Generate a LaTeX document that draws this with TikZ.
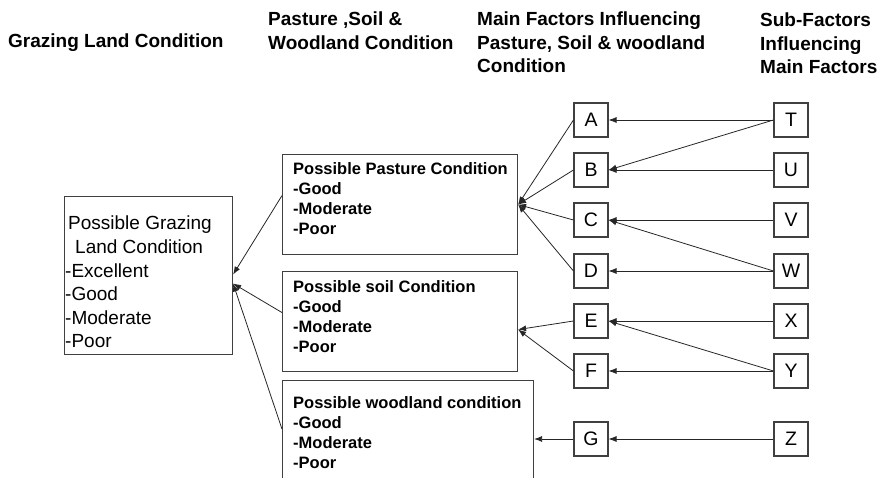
\documentclass[tikz,border=0pt]{standalone}
\usepackage{fontspec}
\setmainfont{Liberation Sans}
\usepackage{tikz}
\usetikzlibrary{arrows.meta}

\begin{document}
\begin{tikzpicture}[x=1pt,y=-1pt]
% Les styles des objets
\tikzstyle{fleche}=[->,>={Latex[length=8pt,width=6pt]},line width=0.8pt,draw=black!85]
\tikzstyle{cadre}=[draw=black!75,line width=1.1pt,rectangle,inner sep=0pt]
\tikzstyle{lettre}=[cadre,minimum size=34pt,font=\fontsize{19.5}{23}\selectfont]
\tikzstyle{titre}=[anchor=north west,inner sep=0pt,align=left,
                   font=\fontsize{19}{23.5}\selectfont\bfseries]
\tikzstyle{liste}=[anchor=north west,inner sep=0pt,align=left,
                   font=\fontsize{16.5}{20}\selectfont\bfseries]

\useasboundingbox (0,0) rectangle (883,478);
\clip (0,0) rectangle (883,478);

% Les titres des colonnes
\node[titre] (t1) at (8,34) {Grazing Land Condition};
\node[titre] (t2) at (268,12) {Pasture ,Soil \&\\Woodland Condition};
\node[titre] (t3) at (477,12) {Main Factors Influencing\\Pasture, Soil \& woodland\\Condition};
\node[titre] (t4) at (760,13) {Sub-Factors\\Influencing\\Main Factors};

% Les grands cadres
\node[cadre,anchor=north west,minimum width=168pt,minimum height=158pt] (grazing) at (64,196) {};
\node[cadre,anchor=north west,minimum width=235pt,minimum height=100pt] (pasture) at (282,154) {};
\node[cadre,anchor=north west,minimum width=235pt,minimum height=100pt] (soil) at (282,271) {};
\node[cadre,anchor=north west,minimum width=251pt,minimum height=125pt] (woodland) at (282,380) {};

% Le texte des cadres
\node[anchor=north west,inner sep=0pt,align=left,font=\fontsize{19}{23.6}\selectfont]
  (grazingtxt) at (65,216) {\hspace*{3pt}Possible Grazing\\\hspace*{10pt}Land Condition\\-Excellent\\-Good\\-Moderate\\-Poor};
\node[liste] (pasturetxt) at (293,162) {Possible Pasture Condition\\-Good\\-Moderate\\-Poor};
\node[liste] (soiltxt) at (293,280) {Possible soil Condition\\-Good\\-Moderate\\-Poor};
\node[liste] (woodlandtxt) at (293,396) {Possible woodland condition\\-Good\\-Moderate\\-Poor};

% Les facteurs et sous-facteurs
\foreach \x/\y/\nom in {591/120/A, 591/170/B, 591/220/C, 591/271/D,
                        591/321/E, 591/371/F, 591/439/G,
                        791/120/T, 791/170/U, 791/220/V, 791/271/W,
                        791/321/X, 791/371/Y, 791/439/Z}{
    \node[lettre] (\nom) at (\x,\y) {\nom};
}

% Les sous-facteurs vers les facteurs
\foreach \a/\b in {T/A, T/B, U/B, V/C, W/C, W/D, X/E, Y/E, Y/F, Z/G}{
    \draw[fleche] (\a.west) -- (\b.east);
}

% Les facteurs vers les cadres
\foreach \a in {A,B,C,D}{
    \draw[fleche] (\a.west) -- (pasture.east);
}
\foreach \a in {E,F}{
    \draw[fleche] (\a.west) -- ([yshift=-8pt]soil.east);
}
\draw[fleche] (G.west) -- (G.west -| woodland.east);

% Les cadres vers l'état du terrain
\draw[fleche] ([yshift=9pt]pasture.west) -- ([yshift=1pt]grazing.east);
\draw[fleche] ([yshift=9pt]soil.west) -- ([yshift=-8pt]grazing.east);
\draw[fleche] ([yshift=14pt]woodland.west) -- ([yshift=-8pt]grazing.east);
\end{tikzpicture}
\end{document}
